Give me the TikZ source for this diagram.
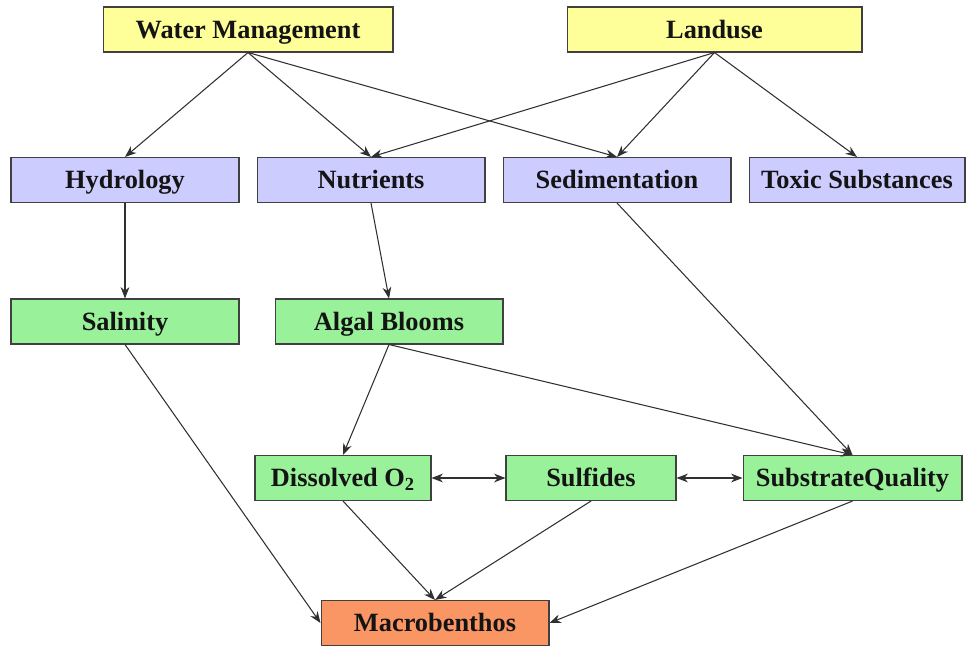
\documentclass[tikz,border=0pt]{standalone}
\usepackage{fontspec}
\setmainfont{Liberation Serif}
\usetikzlibrary{arrows.meta, positioning}
\definecolor{steuer}{HTML}{FFFF99}
\definecolor{treiber}{HTML}{CCCCFF}
\definecolor{wirkung}{HTML}{99F299}
\definecolor{ziel}{HTML}{FA9664}
\definecolor{rand}{HTML}{404040}
\definecolor{linie}{HTML}{303030}
\definecolor{schrift}{HTML}{141414}

\begin{document}
\begin{tikzpicture}[x=0.02cm, y=-0.02cm,
    box/.style={draw=rand, line width=0.6pt, minimum height=0.9cm,
                inner sep=0pt, text=schrift, text height=13pt, text depth=3pt,
                font=\fontsize{15}{18}\selectfont\bfseries},
    pfeil/.style={-{Stealth[length=6.5pt, width=5pt]}, draw=linie,
                  line width=0.6pt},
    doppel/.style={{Stealth[length=6.5pt, width=5pt]}-{Stealth[length=6.5pt, width=5pt]},
                   draw=linie, line width=0.6pt}]
      \useasboundingbox (0,0) rectangle (969,645);

      % Steuergroessen
      \node[box, fill=steuer, minimum width=5.8cm] (wasser) at (248,29.5) {Water Management};
      \node[box, fill=steuer, minimum width=5.9cm] (land) at (714.5,29.5) {Landuse};

      % Treiber
      \node[box, fill=treiber, minimum width=4.56cm] (hydro) at (125,180) {Hydrology};
      \node[box, fill=treiber, minimum width=4.56cm] (naehr) at (371,180) {Nutrients};
      \node[box, fill=treiber, minimum width=4.56cm] (sedi) at (617,180) {Sedimentation};
      \node[box, fill=treiber, minimum width=4.32cm] (toxi) at (857,180) {Toxic Substances};

      % Wirkungen
      \node[box, fill=wirkung, minimum width=4.56cm] (salz) at (125,321.5) {Salinity};
      \node[box, fill=wirkung, minimum width=4.56cm] (algen) at (389,321.5) {Algal Blooms};
      \node[box, fill=wirkung, minimum width=3.52cm] (sauer) at (343,478) {Dissolved O\textsubscript{2}};
      \node[box, fill=wirkung, minimum width=3.4cm] (sulfid) at (591,478) {Sulfides};
      \node[box, fill=wirkung, minimum width=4.38cm] (substrat) at (852.5,478) {SubstrateQuality};

      % Ziel
      \node[box, fill=ziel, minimum width=4.56cm] (makro) at (435,623) {Macrobenthos};

      % Pfeile
      \foreach \von/\nach in {wasser/hydro, wasser/naehr, wasser/sedi,
                              land/naehr, land/sedi, land/toxi,
                              hydro/salz, naehr/algen, sedi/substrat,
                              algen/sauer, algen/substrat,
                              sauer/makro, sulfid/makro}
        \draw[pfeil] (\von.south) -- (\nach.north);
      \draw[pfeil] (salz.south) -- (makro.west);
      \draw[pfeil] (substrat.south) -- (makro.east);
      \draw[doppel] (sauer.east) -- (sulfid.west);
      \draw[doppel] (sulfid.east) -- (substrat.west);
    \end{tikzpicture}
\end{document}
